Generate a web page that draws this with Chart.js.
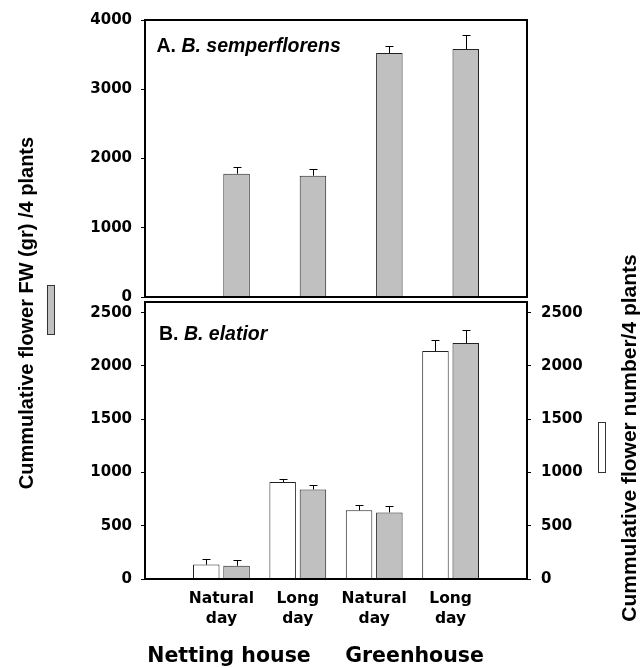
<!DOCTYPE html>
<html><head><meta charset="utf-8">
<script src="https://cdn.jsdelivr.net/npm/chart.js@4/dist/chart.umd.min.js"></script>
<style>
html,body{margin:0;padding:0;background:#fff;}
#wrap{position:relative;width:641px;height:668px;overflow:hidden;background:#fff;}
#wrap canvas{position:absolute;left:0;top:0;}
</style></head>
<body><div id="wrap"><canvas id="cA" width="641" height="668"></canvas><canvas id="cB" width="641" height="668"></canvas></div>
<script>
// ---- data ----
const categories = [['Natural','day'],['Long','day'],['Natural','day'],['Long','day']];
const locations = ['Netting house','Greenhouse'];
// Panel A: B. semperflorens
const semperNumber = [null, 0, 0, 0];
const semperNumberErr = [null, 0, 0, 0];
const semperFW = [1780, 1752, 3523, 3581];
const semperFWErr = [95, 100, 97, 200];
// Panel B: B. elatior
const elatiorNumber = [135, 910, 645, 2140];
const elatiorNumberErr = [55, 30, 50, 105];
const elatiorFW = [125, 840, 625, 2215];
const elatiorFWErr = [50, 40, 60, 120];
const ticksA = [0, 1000, 2000, 3000, 4000];
const ticksB = [0, 500, 1000, 1500, 2000, 2500];
const maxA = 4000, maxB = 2600;
const titleFW = 'Cummulative flower FW (gr) /4 plants';
const titleNumber = 'Cummulative flower number/4 plants';

// pad with empty slots on both ends of the category axis
const pad = a => [null].concat(a).concat([null]);
const xLabels = [''].concat(categories).concat(['']);

const tickFont = {family:'DejaVu Sans', weight:'bold', size:15};
const GRAY = '#c0c0c0', EDGE = '#222';

const errPlugin = {id:'errbars', afterDatasetsDraw(chart){
  const ctx = chart.ctx;
  chart.data.datasets.forEach((ds, di) => {
    const meta = chart.getDatasetMeta(di);
    const ys = chart.scales[meta.yAxisID];
    meta.data.forEach((bar, i) => {
      const v = ds.data[i], e = ds.errors ? ds.errors[i] : null;
      if (v == null || e == null) return;
      const x = Math.round(bar.x) + 0.5;
      const y0 = ys.getPixelForValue(v);
      const y1 = Math.round(ys.getPixelForValue(v + e)) + 0.5;
      ctx.save();
      ctx.strokeStyle = '#000'; ctx.lineWidth = 1;
      ctx.beginPath();
      ctx.moveTo(x, y0); ctx.lineTo(x, y1);
      ctx.moveTo(x - 4, y1); ctx.lineTo(x + 4, y1);
      ctx.stroke();
      ctx.restore();
    });
  });
}};

const framePlugin = {id:'frame', afterDatasetsDraw(chart){
  const a = chart.chartArea, ctx = chart.ctx;
  ctx.save();
  ctx.strokeStyle = '#000'; ctx.lineWidth = 2;
  ctx.strokeRect(a.left, a.top, a.right - a.left, a.bottom - a.top);
  ctx.restore();
}};

const textPlugin = {id:'texts', afterDraw(chart, args, opts){
  const ctx = chart.ctx;
  (opts.items || []).forEach(it => {
    ctx.save();
    ctx.fillStyle = '#000';
    ctx.textBaseline = 'alphabetic';
    ctx.translate(it.x, it.y);
    if (it.rotate) ctx.rotate(it.rotate);
    if (it.parts) {
      ctx.textAlign = 'left';
      let x = 0;
      it.parts.forEach(p => { ctx.font = p.font; ctx.fillText(p.text, x, 0); x += ctx.measureText(p.text).width; });
    } else {
      ctx.font = it.font; ctx.textAlign = it.align || 'left';
      ctx.fillText(it.text, 0, 0);
    }
    ctx.restore();
  });
  (opts.boxes || []).forEach(b => {
    ctx.save();
    ctx.fillStyle = b.fill; ctx.strokeStyle = '#333'; ctx.lineWidth = 1;
    ctx.fillRect(b.x, b.y, b.w, b.h); ctx.strokeRect(b.x, b.y, b.w, b.h);
    ctx.restore();
  });
}};

const yAxis = (tickValues, max, position, width, padding) => ({
  type:'linear', position, min:0, max,
  ticks:{color:'#000', font:tickFont, padding, callback: v => String(v)},
  afterBuildTicks: s => { s.ticks = tickValues.map(v => ({value:v})); },
  grid:{drawOnChartArea:false, drawTicks:true, tickLength:4, color:'#000', lineWidth:1},
  border:{display:false},
  afterFit: s => { s.width = width; }
});

const barStyle = {categoryPercentage:0.793, barPercentage:0.875};

// ---- Panel A ----
new Chart(document.getElementById('cA'), {
  type:'bar',
  data:{labels:xLabels, datasets:[
    {label:'Flower number', data:pad(semperNumber), errors:pad(semperNumberErr), backgroundColor:'#fff', borderColor:EDGE, borderWidth:1},
    {label:'Flower FW', data:pad(semperFW), errors:pad(semperFWErr), backgroundColor:GRAY, borderColor:EDGE, borderWidth:1}
  ]},
  options:{
    responsive:false, animation:false, devicePixelRatio:1,
    layout:{padding:{top:20, right:114, bottom:371, left:0}},
    datasets:{bar:barStyle},
    plugins:{legend:{display:false}, tooltip:{enabled:false},
      texts:{items:[
        {x:156.5, y:52, parts:[
          {text:'A. ', font:'bold 19.5px "Liberation Sans"'},
          {text:'B. semperflorens', font:'italic bold 19.5px "Liberation Sans"'}]}
      ]}},
    scales:{
      x:{type:'category', display:false, offset:false},
      y:yAxis(ticksA, maxA, 'left', 145, 9)
    }
  },
  plugins:[errPlugin, framePlugin, textPlugin]
});

// ---- Panel B ----
new Chart(document.getElementById('cB'), {
  type:'bar',
  data:{labels:xLabels, datasets:[
    {label:'Flower number', data:pad(elatiorNumber), errors:pad(elatiorNumberErr), yAxisID:'yR', backgroundColor:'#fff', borderColor:EDGE, borderWidth:1},
    {label:'Flower FW', data:pad(elatiorFW), errors:pad(elatiorFWErr), yAxisID:'y', backgroundColor:GRAY, borderColor:EDGE, borderWidth:1}
  ]},
  options:{
    responsive:false, animation:false, devicePixelRatio:1,
    layout:{padding:{top:302, right:0, bottom:0, left:0}},
    datasets:{bar:barStyle},
    plugins:{legend:{display:false}, tooltip:{enabled:false},
      texts:{items:[
        {x:159, y:339.5, parts:[
          {text:'B. ', font:'bold 19.5px "Liberation Sans"'},
          {text:'B. elatior', font:'italic bold 19.5px "Liberation Sans"'}]},
        {x:229, y:662, text:locations[0], font:'bold 20.5px "DejaVu Sans"', align:'center'},
        {x:414.5, y:662, text:locations[1], font:'bold 20.5px "DejaVu Sans"', align:'center'},
        {x:33, y:313, rotate:-Math.PI/2, text:titleFW, font:'bold 20px "Liberation Sans"', align:'center'},
        {x:636, y:438, rotate:-Math.PI/2, text:titleNumber, font:'bold 21px "Liberation Sans"', align:'center'}
      ], boxes:[
        {x:47.5, y:285.5, w:7, h:49, fill:GRAY},
        {x:598.5, y:422.5, w:7, h:50, fill:'#fff'}
      ]}},
    scales:{
      x:{type:'category', offset:false, position:'bottom',
        ticks:{color:'#000', font:{family:'DejaVu Sans', weight:'bold', size:15.5, lineHeight:1.3}, padding:9.5, autoSkip:false, maxRotation:0, minRotation:0},
        grid:{display:false, drawTicks:false}, border:{display:false},
        afterFit: s => { s.height = 89; }},
      y:yAxis(ticksB, maxB, 'left', 145, 9),
      yR:yAxis(ticksB, maxB, 'right', 114, 10)
    }
  },
  plugins:[errPlugin, framePlugin, textPlugin]
});
</script>
</body></html>
